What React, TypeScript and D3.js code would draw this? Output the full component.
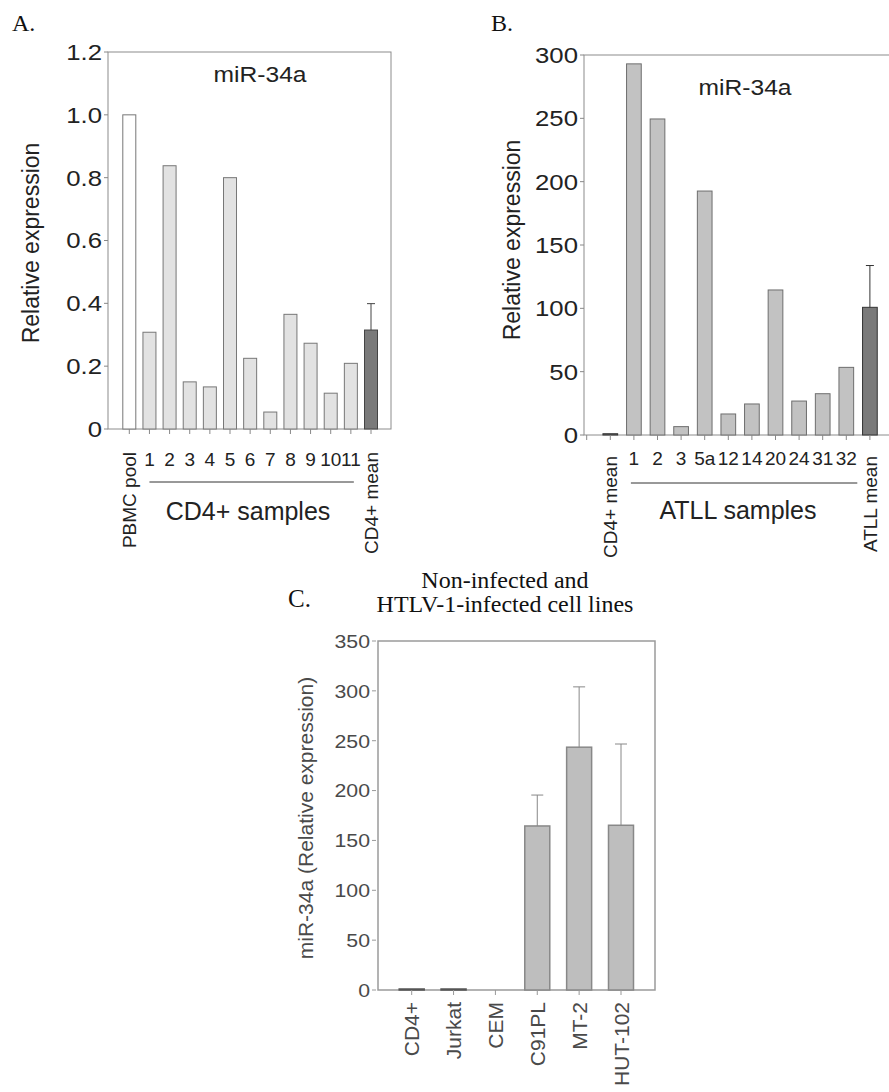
import * as d3 from "d3";
import React from "react";

// panel A: CD4+ samples
const aCategories = ["PBMC pool", "1", "2", "3", "4", "5", "6", "7", "8", "9", "10", "11", "CD4+ mean"];
const aValues = [1.0, 0.308, 0.838, 0.15, 0.134, 0.8, 0.225, 0.054, 0.365, 0.273, 0.114, 0.209, 0.315];
const aErrors = [0, 0, 0, 0, 0, 0, 0, 0, 0, 0, 0, 0, 0.084];
const aTicks = [0, 0.2, 0.4, 0.6, 0.8, 1.0, 1.2];

// panel B: ATLL samples
const bCategories = ["CD4+ mean", "1", "2", "3", "5a", "12", "14", "20", "24", "31", "32", "ATLL mean"];
const bValues = [1, 293, 249.5, 6.6, 192.6, 16.6, 24.5, 114.5, 26.8, 32.6, 53.4, 100.8];
const bErrors = [0, 0, 0, 0, 0, 0, 0, 0, 0, 0, 0, 33];
const bTicks = [0, 50, 100, 150, 200, 250, 300];

// panel C: cell lines
const cCategories = ["CD4+", "Jurkat", "CEM", "C91PL", "MT-2", "HUT-102"];
const cValues = [1, 1, 0, 164.5, 243.5, 165.2];
const cErrors = [0, 0, 0, 31, 60.5, 81.5];
const cTicks = [0, 50, 100, 150, 200, 250, 300, 350];

const sans = "'Liberation Sans', Arial, sans-serif";
const serif = "'Liberation Serif', 'Times New Roman', serif";

function YTicks({ y, ticks, x0, fmt, size, color, stroke, stretch }) {
  return (
    <g>
      {ticks.map((t) => (
        <g key={t}>
          <line x1={x0 - 4} x2={x0} y1={y(t)} y2={y(t)} stroke={stroke} />
          <text
            transform={`translate(${x0 - 6},${y(t)}) scale(${stretch},1)`}
            textAnchor="end"
            dy="0.36em"
            fontSize={size}
            fill={color}
          >
            {fmt(t)}
          </text>
        </g>
      ))}
    </g>
  );
}

function Bars({ cats, values, errors, x, y, width, fill, stroke, strokeWidth, cap }) {
  return (
    <g>
      {cats.map((c, i) => {
        const cx = x(c);
        const top = y(values[i]);
        const base = y(0);
        return (
          <g key={c}>
            {values[i] > 0 && (
              <rect
                x={cx - width / 2}
                y={top}
                width={width}
                height={base - top}
                fill={fill(c)}
                stroke={stroke(c)}
                strokeWidth={strokeWidth}
              />
            )}
            {errors[i] > 0 && (
              <g stroke={stroke(c)} strokeWidth={1}>
                <line x1={cx} x2={cx} y1={top} y2={y(values[i] + errors[i])} />
                <line x1={cx - cap} x2={cx + cap} y1={y(values[i] + errors[i])} y2={y(values[i] + errors[i])} />
              </g>
            )}
          </g>
        );
      })}
    </g>
  );
}

function CatLabels({ cats, x, yTop, yBase, size, color }) {
  return (
    <g fontSize={size} fill={color}>
      {cats.map((c) =>
        c.includes(" ") ? (
          <text key={c} transform={`translate(${x(c)},${yTop}) rotate(-90)`} textAnchor="end" dy="0.36em">
            {c}
          </text>
        ) : (
          <text key={c} x={x(c)} y={yBase} textAnchor="middle">
            {c}
          </text>
        )
      )}
    </g>
  );
}

export default function App() {
  const frameA = { left: 108, top: 52, right: 391, bottom: 429 };
  const xA = d3.scalePoint().domain(aCategories).range([129.3, 371]);
  const yA = d3.scaleLinear().domain([0, 1.2]).range([frameA.bottom, frameA.top]);

  const frameB = { left: 584, top: 55, right: 900, bottom: 435 };
  const xB = d3.scalePoint().domain(["", ...bCategories]).range([586.7, 869.9]);
  const yB = d3.scaleLinear().domain([0, 300]).range([frameB.bottom, frameB.top]);

  const frameC = { left: 378, top: 641, right: 655, bottom: 990 };
  const xC = d3.scalePoint().domain(cCategories).range([411.7, 621]);
  const yC = d3.scaleLinear().domain([0, 350]).range([frameC.bottom, frameC.top]);

  const fmtA = (d) => (d === 0 ? "0" : d3.format(".1f")(d));
  const fmtInt = d3.format("d");
  const dark = "#222";

  return (
    <svg
      width={889}
      height={1092}
      style={{ position: "absolute", left: 0, top: 0, background: "#fff" }}
      fontFamily={sans}
    >
      <rect width={889} height={1092} fill="#fff" />

      {/* ---------- A ---------- */}
      <text x={12} y={31} fontFamily={serif} fontSize={24} fill="#111">A.</text>
      <rect
        x={frameA.left}
        y={frameA.top}
        width={frameA.right - frameA.left}
        height={frameA.bottom - frameA.top}
        fill="none"
        stroke="#8c8c8c"
      />
      <YTicks y={yA} ticks={aTicks} x0={frameA.left} fmt={fmtA} size={22} color={dark} stroke="#888" stretch={1.17} />
      <Bars
        cats={aCategories}
        values={aValues}
        errors={aErrors}
        x={xA}
        y={yA}
        width={13}
        fill={(c) => (c === "PBMC pool" ? "#fff" : c === "CD4+ mean" ? "#7a7a7a" : "#e2e2e2")}
        stroke={(c) => (c === "CD4+ mean" ? "#444" : "#777")}
        strokeWidth={1}
        cap={4}
      />
      <g stroke="#888">
        {aCategories.map((c) => (
          <line key={c} x1={xA(c)} x2={xA(c)} y1={frameA.bottom} y2={frameA.bottom + 5} />
        ))}
      </g>
      <text transform={`translate(260,82) scale(1.12,1)`} textAnchor="middle" fontSize={22} fill={dark}>
        miR-34a
      </text>
      <text transform="translate(31,243) rotate(-90)" textAnchor="middle" dy="0.35em" fontSize={23} fill={dark}>
        Relative expression
      </text>
      <CatLabels cats={aCategories} x={xA} yTop={452} yBase={466} size={19} color={dark} />
      <line x1={xA("1")} x2={xA("11") + 3} y1={482} y2={482} stroke="#333" />
      <text x={248} y={520} textAnchor="middle" fontSize={25} fill={dark}>CD4+ samples</text>

      {/* ---------- B ---------- */}
      <text x={491} y={31} fontFamily={serif} fontSize={24} fill="#111">B.</text>
      <rect
        x={frameB.left}
        y={frameB.top}
        width={frameB.right - frameB.left}
        height={frameB.bottom - frameB.top}
        fill="none"
        stroke="#8c8c8c"
      />
      <YTicks y={yB} ticks={bTicks} x0={frameB.left} fmt={fmtInt} size={22} color={dark} stroke="#888" stretch={1.17} />
      <Bars
        cats={bCategories}
        values={bValues}
        errors={bErrors}
        x={xB}
        y={yB}
        width={14.7}
        fill={(c) => (c.includes("mean") ? "#7a7a7a" : "#c2c2c2")}
        stroke={(c) => (c.includes("mean") ? "#333" : "#6e6e6e")}
        strokeWidth={1}
        cap={4}
      />
      <g stroke="#888">
        {xB.domain().map((c) => (
          <line key={c} x1={xB(c)} x2={xB(c)} y1={frameB.bottom} y2={frameB.bottom + 5} />
        ))}
      </g>
      <text transform={`translate(745,95) scale(1.12,1)`} textAnchor="middle" fontSize={22} fill={dark}>
        miR-34a
      </text>
      <text transform="translate(512,240) rotate(-90)" textAnchor="middle" dy="0.35em" fontSize={23} fill={dark}>
        Relative expression
      </text>
      <CatLabels cats={bCategories} x={xB} yTop={456} yBase={465} size={19} color={dark} />
      <line x1={xB("1") - 3} x2={xB("32") + 11} y1={483} y2={483} stroke="#333" />
      <text x={738} y={519} textAnchor="middle" fontSize={25} fill={dark}>ATLL samples</text>

      {/* ---------- C ---------- */}
      <text x={288} y={607} fontFamily={serif} fontSize={25} fill="#111">C.</text>
      <g fontFamily={serif} fontSize={24} fill="#111" textAnchor="middle">
        <text x={505} y={588}>Non-infected and</text>
        <text x={505} y={612}>HTLV-1-infected cell lines</text>
      </g>
      <rect
        x={frameC.left}
        y={frameC.top}
        width={frameC.right - frameC.left}
        height={frameC.bottom - frameC.top}
        fill="none"
        stroke="#9a9a9a"
        strokeWidth={1.5}
      />
      <YTicks y={yC} ticks={cTicks} x0={frameC.left - 2} fmt={fmtInt} size={19} color="#4a4a4a" stroke="#999" stretch={1.12} />
      <Bars
        cats={cCategories}
        values={cValues}
        errors={cErrors}
        x={xC}
        y={yC}
        width={25}
        fill={() => "#bebebe"}
        stroke={(c) => (cValues[cCategories.indexOf(c)] < 5 ? "#555" : "#888")}
        strokeWidth={1.5}
        cap={6}
      />
      <g stroke="#999">
        {cCategories.map((c) => (
          <line key={c} x1={xC(c)} x2={xC(c)} y1={frameC.bottom} y2={frameC.bottom + 5} />
        ))}
      </g>
      <text transform="translate(306,818) rotate(-90)" textAnchor="middle" dy="0.35em" fontSize={21} fill="#4a4a4a">
        miR-34a (Relative expression)
      </text>
      <g fontSize={21} fill="#4a4a4a">
        {cCategories.map((c) => (
          <text key={c} transform={`translate(${xC(c)},1002) rotate(-90)`} textAnchor="end" dy="0.36em">
            {c}
          </text>
        ))}
      </g>
    </svg>
  );
}
